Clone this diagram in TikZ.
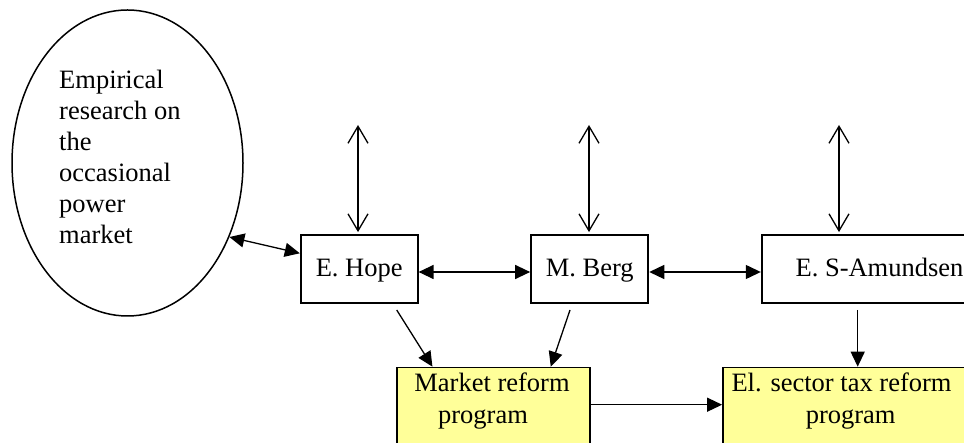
\documentclass[tikz,border=0pt]{standalone}
\usepackage{fontspec}
\setmainfont{Liberation Serif}
\usetikzlibrary{arrows.meta,shapes.geometric,calc}
\definecolor{boxyellow}{HTML}{FFFF99}
\begin{document}
\begin{tikzpicture}[x=1pt,y=-1pt,
  txt/.style={font=\fontsize{26.5}{31}\selectfont, inner sep=0pt},
  person/.style={draw, line width=1.8pt, minimum height=68pt, inner sep=0pt,
    text height=18pt, text depth=2pt, font=\fontsize{26.5}{31}\selectfont},
  prog/.style={draw, line width=1.8pt, fill=boxyellow, minimum height=120pt, anchor=north},
  biarrow/.style={line width=1.3pt, {Triangle[length=15pt,width=14pt]}-{Triangle[length=15pt,width=14pt]}},
  toarrow/.style={line width=1.3pt, -{Triangle[length=15pt,width=14pt]}},
  openarrow/.style={line width=1.3pt, {Straight Barb[length=17pt,width=20pt]}-{Straight Barb[length=17pt,width=20pt]}}]
\clip (0,0) rectangle (964,443);
\fill[white] (0,0) rectangle (964,443);

% ellipse
\node[draw, ellipse, line width=1.5pt, minimum width=231pt, minimum height=306pt, inner sep=0pt] (emp) at (127.5,163) {};
\node[txt, anchor=base west] (e1) at (59,88.3) {Empirical};
\node[txt, anchor=base west] (e2) at (59,119.3) {research on};
\node[txt, anchor=base west] (e3) at (59,150.3) {the};
\node[txt, anchor=base west] (e4) at (59,181.3) {occasional};
\node[txt, anchor=base west] (e5) at (59,212.3) {power};
\node[txt, anchor=base west] (e6) at (59,243.3) {market};

% people
\node[person, minimum width=117pt] (hope) at (359.2,269) {E. Hope};
\node[person, minimum width=117.3pt] (berg) at (589.7,269) {M. Berg};
\node[person, minimum width=235.6pt] (sam) at (879.5,269) {E. S-Amundsen};

% programs
\node[prog, minimum width=193.3pt] (mkt) at (493.3,366.7) {};
\node[prog, minimum width=246pt] (tax) at (846,366.7) {};
\node[txt, anchor=base] (mkt1) at (492,391.7) {Market reform};
\node[txt, anchor=base] (mkt2) at (483,423.3) {program};
\node[txt, anchor=base] (tax1) at (841.5,391.7) {El. sector tax reform};
\node[txt, anchor=base] (tax2) at (850.7,423.3) {program};

% free ends
\coordinate (u1) at (358,125);
\coordinate (u2) at (589,125);
\coordinate (u3) at (839,125);
\coordinate (d1) at (396.7,310);
\coordinate (d2) at (570,310);
\coordinate (d3) at (857.7,310);

% connectors
\draw[openarrow, shorten >=2pt] (u1) -- (u1 |- hope.north);
\draw[openarrow, shorten >=2pt] (u2) -- (u2 |- berg.north);
\draw[openarrow, shorten >=2pt] (u3) -- (u3 |- sam.north);

\draw[biarrow] (emp.-36) -- ($(hope.west)+(0,-15.7)$);
\draw[biarrow] ($(hope.east)+(0,3)$) -- ($(berg.west)+(0,3)$);
\draw[biarrow] ($(berg.east)+(0,3)$) -- ($(sam.west)+(0,3)$);

\draw[toarrow] (d1) -- ($(mkt.north west)+(36.7,0)$);
\draw[toarrow] (d2) -- ($(mkt.north west)+(155,0)$);
\draw[toarrow] (d3) -- (d3 |- tax.north);
\draw[toarrow] ($(mkt.north east)+(0,38)$) -- ($(tax.north west)+(0,38)$);
\end{tikzpicture}
\end{document}
